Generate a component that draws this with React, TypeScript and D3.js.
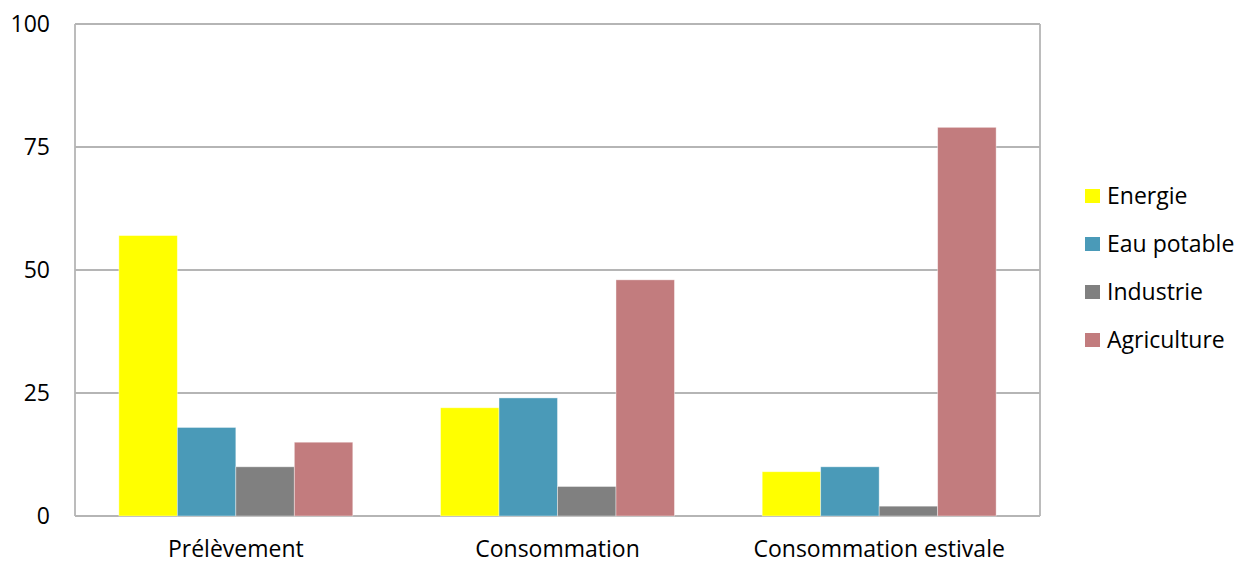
import React from "react";
import * as d3 from "d3";

const categories = ["Prélèvement", "Consommation", "Consommation estivale"];
const seriesNames = ["Energie", "Eau potable", "Industrie", "Agriculture"];
const energie = [57, 22, 9];
const eauPotable = [18, 24, 10];
const industrie = [10, 6, 2];
const agriculture = [15, 48, 79];
const yTicks = [0, 25, 50, 75, 100];
const colors = ["#FFFF00", "#4A9AB8", "#808080", "#C27C7E"];

const seriesValues = [energie, eauPotable, industrie, agriculture];

export default function App() {
  const W = 1237, H = 561;
  const left = 75, right = 1040, top = 24, bottom = 516;
  const x0 = d3.scaleBand<string>().domain(categories).range([left, right]).paddingInner(0).paddingOuter(0);
  const x1 = d3.scaleBand<string>().domain(seriesNames).range([0, x0.bandwidth()]).paddingOuter(0.75).paddingInner(0);
  const y = d3.scaleLinear().domain([0, 100]).range([bottom, top]);
  const font = "'Open Sans', 'Noto Sans', sans-serif";
  const fs = 23;
  return (
    <svg width={W} height={H} style={{ position: "absolute", left: 0, top: 0 }}>
      <rect x={0} y={0} width={W} height={H} fill="#fff" />
      {yTicks.map((t) => (
        <g key={t}>
          <line x1={left} x2={right} y1={y(t)} y2={y(t)} stroke="#b5b5b5" strokeWidth={1.8} />
          <text x={50} y={y(t)} dy="0.36em" textAnchor="end" fontFamily={font} fontSize={fs} fill="#000">{t}</text>
        </g>
      ))}
      <line x1={left} x2={left} y1={top} y2={bottom} stroke="#b5b5b5" strokeWidth={1.8} />
      <line x1={right} x2={right} y1={top} y2={bottom} stroke="#b5b5b5" strokeWidth={1.8} />
      {categories.map((c, ci) => (
        <g key={c}>
          {seriesNames.map((s, si) => (
            <rect
              key={s}
              x={(x0(c) ?? 0) + (x1(s) ?? 0)}
              y={y(seriesValues[si][ci])}
              width={x1.bandwidth()}
              height={y(0) - y(seriesValues[si][ci])}
              fill={colors[si]}
              stroke="#ffffff"
              strokeOpacity={0.5}
              strokeWidth={0.8}
            />
          ))}
          <text x={(x0(c) ?? 0) + x0.bandwidth() / 2} y={557} textAnchor="middle" fontFamily={font} fontSize={fs} fill="#000">{c}</text>
        </g>
      ))}
      {seriesNames.map((s, si) => (
        <g key={s} transform={`translate(1085, ${196 + si * 48})`}>
          <rect x={0} y={-7} width={15} height={14} fill={colors[si]} />
          <text x={22} y={0} dy="0.36em" fontFamily={font} fontSize={fs} fill="#000">{s}</text>
        </g>
      ))}
    </svg>
  );
}
